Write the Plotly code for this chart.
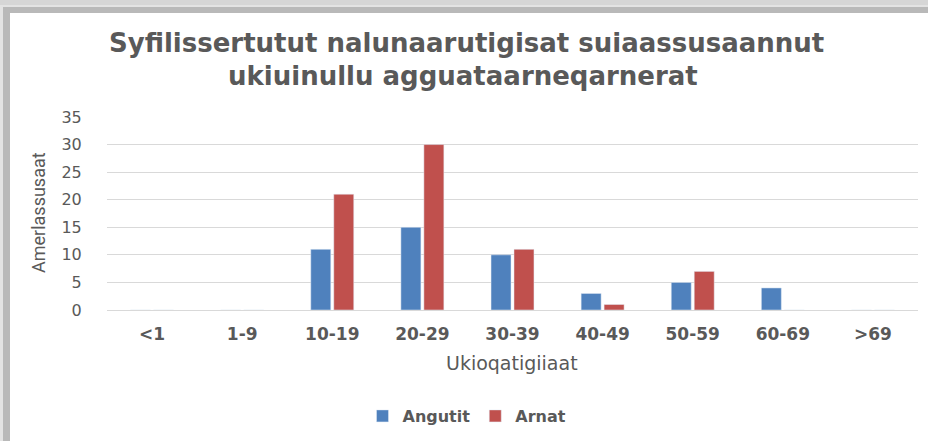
import plotly.graph_objects as go

categories = ["<1", "1-9", "10-19", "20-29", "30-39", "40-49", "50-59", "60-69", ">69"]
angutit = [0, 0, 11, 15, 10, 3, 5, 4, 0]
arnat = [0, 0, 21, 30, 11, 1, 7, 0, 0]
y_ticks = [0, 5, 10, 15, 20, 25, 30, 35]

title_line1 = "Syfilissertutut nalunaarutigisat suiaassusaannut"
title_line2 = "ukiuinullu agguataarneqarnerat"
x_title = "Ukioqatigiiaat"
y_title = "Amerlassusaat"

W, H = 928, 441
L, R, T, B = 107, 10, 117, 131
pw, ph = W - L - R, H - T - B
TXT = "#595959"

def px(x):
    return (x - L) / pw

def py(y):
    return (H - B - y) / ph

fig = go.Figure()
fig.add_trace(go.Bar(name="Angutit", x=categories, y=angutit, marker_color="#4f81bd"))
fig.add_trace(go.Bar(name="Arnat", x=categories, y=arnat, marker_color="#c0504d"))

shapes = [
    dict(type="rect", xref="paper", yref="paper", x0=px(0), x1=px(W), y0=py(H), y1=py(5),
         fillcolor="#e3e3e3", line_width=0, layer="below"),
    dict(type="rect", xref="paper", yref="paper", x0=px(3), x1=px(W), y0=py(H), y1=py(7),
         fillcolor="#b9b9b9", line_width=0, layer="below"),
    dict(type="rect", xref="paper", yref="paper", x0=px(10), x1=px(W), y0=py(H), y1=py(13),
         fillcolor="#ffffff", line_width=0, layer="below"),
]

title_font = dict(family="DejaVu Sans, sans-serif", size=26, color=TXT, weight="bold")
annotations = [
    dict(text=title_line1, xref="paper", yref="paper", x=px(466), y=py(43),
         xanchor="center", yanchor="middle", showarrow=False, font=title_font),
    dict(text=title_line2, xref="paper", yref="paper", x=px(463), y=py(76),
         xanchor="center", yanchor="middle", showarrow=False, font=title_font),
    dict(text=x_title, xref="paper", yref="paper", x=px(512), y=py(363),
         xanchor="center", yanchor="middle", showarrow=False,
         font=dict(family="DejaVu Sans, sans-serif", size=19, color=TXT)),
    dict(text=y_title, xref="paper", yref="paper", x=px(38), y=py(213),
         xanchor="center", yanchor="middle", showarrow=False, textangle=-90,
         font=dict(family="Roboto, sans-serif", size=18, color=TXT)),
]

fig.update_layout(
    width=W, height=H,
    margin=dict(l=L, r=R, t=T, b=B, autoexpand=False),
    paper_bgcolor="#d6d6d6",
    plot_bgcolor="#ffffff",
    barmode="group",
    bargap=0.49,
    bargroupgap=0.13,
    shapes=shapes,
    annotations=annotations,
    font=dict(family="DejaVu Sans, sans-serif", color=TXT, size=14),
    legend=dict(
        orientation="h",
        x=px(467), xanchor="center",
        y=py(416), yanchor="middle",
        font=dict(family="DejaVu Sans, sans-serif", size=16, color=TXT, weight="bold"),
        bgcolor="rgba(0,0,0,0)",
        itemwidth=30,
    ),
    xaxis=dict(
        showgrid=False,
        showline=True, linecolor="#d9d9d9", linewidth=1,
        ticks="outside", ticklen=9, tickcolor="rgba(0,0,0,0)",
        tickfont=dict(family="DejaVu Sans, sans-serif", size=17, color=TXT, weight="bold"),
    ),
    yaxis=dict(
        range=[0, 35],
        tickvals=y_ticks,
        showgrid=True, gridcolor="#d9d9d9", gridwidth=1,
        zeroline=False,
        showline=False,
        ticks="outside", ticklen=21, tickcolor="rgba(0,0,0,0)",
        tickfont=dict(family="DejaVu Sans, sans-serif", size=16, color=TXT),
    ),
)

fig.write_html("out.html", config={"displayModeBar": False},
               post_script="document.body.style.margin='0px';")
